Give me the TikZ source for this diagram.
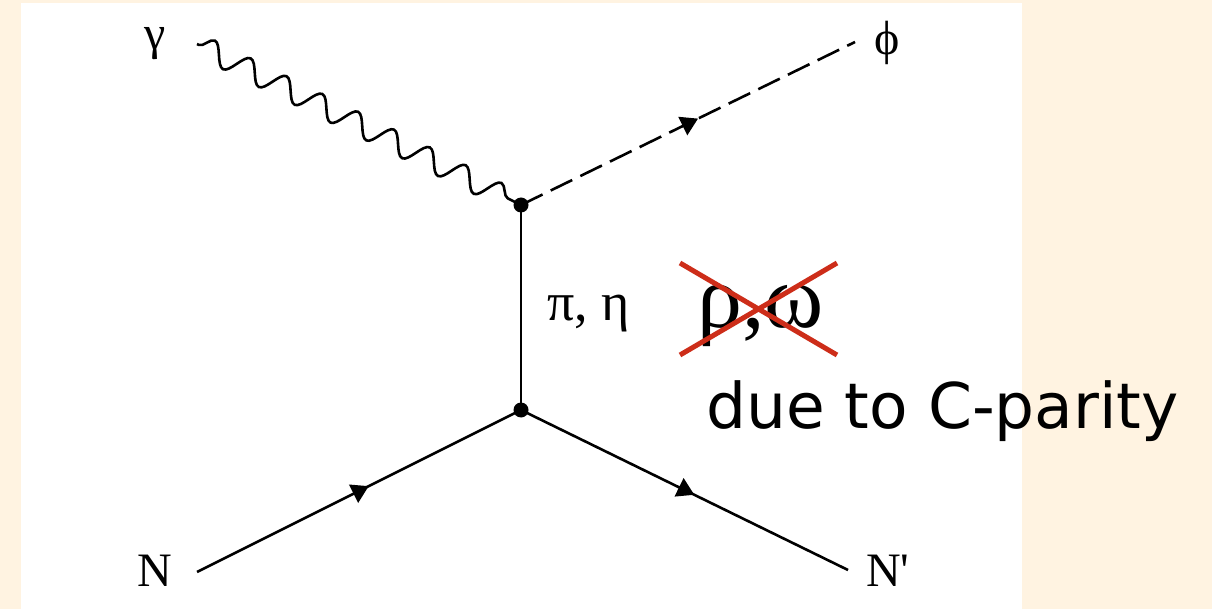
\documentclass[tikz,border=0pt]{standalone}
\usepackage{fontspec}
\setmainfont{Liberation Serif}
\newfontfamily\sansf{DejaVu Sans}
\usetikzlibrary{decorations.pathmorphing,decorations.markings,arrows.meta}
\definecolor{bgbeige}{RGB}{255,243,225}
\definecolor{crossred}{RGB}{205,45,25}
\tikzset{
  prop/.style={line width=2.6pt, black},
  fermion/.style={prop, postaction={decorate}, decoration={markings,
      mark=at position 0.53 with {\arrow{Triangle[length=17pt,width=20pt]}}}},
  photon/.style={prop, decorate, decoration={snake, segment length=40pt, amplitude=11pt, pre length=2pt, post length=6pt}},
  scalar/.style={prop, dash pattern=on 24pt off 9pt},
  vtx/.style={circle, fill=black, inner sep=0pt, minimum size=15pt},
  lbl/.style={inner sep=0pt, font=\fontsize{48}{54}\selectfont},
  crossline/.style={line width=5pt, crossred}
}
\begin{document}
\begin{tikzpicture}[x=1pt,y=-1pt]
  \useasboundingbox (0,0) rectangle (1212,609);
  \fill[bgbeige] (0,0) rectangle (1212,609);
  \fill[white] (21,3) rectangle (1022,609);

  % vertices and free ends
  \node[vtx] (v1) at (521,205) {};
  \node[vtx] (v2) at (521,410) {};
  \coordinate (gend) at (197,44);
  \coordinate (phiend) at (855,42);
  \coordinate (nend) at (197,572);
  \coordinate (npend) at (848,570);

  % propagators
  \draw[photon] (gend) -- (v1.center);
  \draw[scalar] (v1.center) -- (phiend);
  \path[fermion] (v1.center) -- (phiend);
  \draw[prop] (v1.center) -- (v2.center);
  \draw[fermion] (nend) -- (v2.center);
  \draw[fermion] (v2.center) -- (npend);

  % labels
  \node[lbl] (gamma) at (155,44) {γ};
  \node[lbl] (phi) at (887,43) {ϕ};
  \node[lbl, anchor=base] (N) at (155,586) {N};
  \node[lbl, anchor=base west] (Np) at (866,586) {N\textquotesingle};
  \node[inner sep=0pt, anchor=base west, font=\fontsize{54}{60}\selectfont] (pieta) at (547,320) {π, η};
  \node[inner sep=0pt, anchor=base west, font=\fontsize{90}{100}\selectfont] (rhoomega) at (697,328) {ρ,ω};
  \node[inner sep=0pt, anchor=base west, font=\sansf\fontsize{63}{70}\selectfont] (cpar) at (706,428) {due to C-parity};

  % red cross over rho, omega
  \coordinate (c1) at (680,263);
  \coordinate (c2) at (837,355);
  \coordinate (c3) at (680,355);
  \coordinate (c4) at (837,263);
  \draw[crossline] (c1) -- (c2);
  \draw[crossline] (c3) -- (c4);
\end{tikzpicture}
\end{document}
